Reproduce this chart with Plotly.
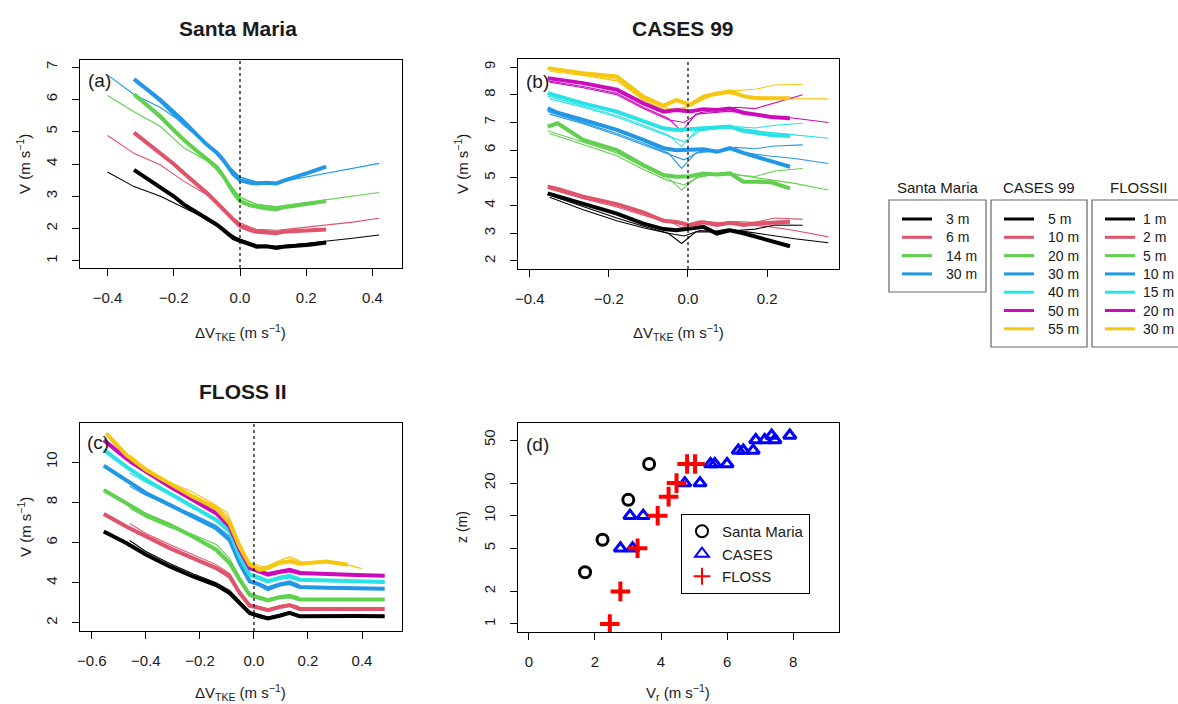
import plotly.graph_objects as go

W, H = 1178, 704

# ---------------- colours (R palette) ----------------
COLS = ["#000000", "#DF536B", "#61D04F", "#2297E6", "#28E2E5", "#CD0BBC", "#F5C710"]

# ---------------- Panel (a) Santa Maria ----------------
SM_HEIGHTS = ["3 m", "6 m", "14 m", "30 m"]
A_X = [-0.32, -0.28, -0.24, -0.20, -0.17, -0.13, -0.10, -0.07, -0.05, -0.02, 0.0, 0.03, 0.05, 0.08, 0.11, 0.13, 0.16, 0.21, 0.26]
A_3M = [3.82, 3.55, 3.30, 3.00, 2.75, 2.50, 2.32, 2.12, 1.96, 1.70, 1.62, 1.50, 1.44, 1.45, 1.40, 1.44, 1.46, 1.50, 1.57]
A_6M = [4.97, 4.65, 4.33, 4.00, 3.72, 3.38, 3.10, 2.80, 2.58, 2.28, 2.08, 1.95, 1.90, 1.88, 1.86, 1.90, 1.91, 1.93, 1.97]
A_14M = [6.16, 5.80, 5.47, 5.05, 4.75, 4.40, 4.13, 3.90, 3.62, 3.12, 2.85, 2.72, 2.68, 2.62, 2.60, 2.66, 2.70, 2.76, 2.85]
A_30M = [6.63, 6.30, 5.98, 5.60, 5.32, 4.90, 4.60, 4.35, 4.12, 3.68, 3.50, 3.42, 3.40, 3.42, 3.40, 3.48, 3.57, 3.74, 3.92]

A_THIN_X = [-0.40, -0.32, -0.24, -0.17, -0.10, -0.05, 0.0, 0.05, 0.11, 0.16, 0.26, 0.34, 0.42]
A_3M_THIN = [3.75, 3.30, 3.00, 2.65, 2.30, 1.97, 1.65, 1.48, 1.45, 1.50, 1.60, 1.70, 1.80]
A_6M_THIN = [4.88, 4.33, 3.97, 3.47, 3.05, 2.60, 2.12, 1.98, 1.95, 2.00, 2.10, 2.20, 2.32]
A_14M_THIN = [6.12, 5.62, 5.16, 4.50, 4.10, 3.65, 2.95, 2.75, 2.68, 2.75, 2.88, 3.00, 3.12]
A_30M_THIN = [6.76, 6.15, 5.75, 5.25, 4.60, 4.10, 3.60, 3.42, 3.42, 3.52, 3.72, 3.87, 4.02]

A_THIN2_X = [-0.32, -0.24, -0.17, -0.10, -0.03, 0.0, 0.05, 0.11, 0.18, 0.26]
A_3M_THIN2 = [3.78, 3.25, 2.78, 2.35, 1.80, 1.68, 1.50, 1.45, 1.50, 1.58]
A_6M_THIN2 = [4.95, 4.30, 3.75, 3.12, 2.40, 2.18, 1.96, 1.90, 1.95, 2.00]
A_14M_THIN2 = [6.15, 5.40, 4.70, 4.15, 3.35, 2.98, 2.75, 2.65, 2.72, 2.85]
A_30M_THIN2 = [6.62, 5.90, 5.20, 4.62, 3.85, 3.60, 3.45, 3.42, 3.62, 3.90]

# ---------------- Panel (b) CASES 99 ----------------
CA_HEIGHTS = ["5 m", "10 m", "20 m", "30 m", "40 m", "50 m", "55 m"]
B_X = [-0.355, -0.33, -0.265, -0.18, -0.113, -0.062, -0.029, 0.005, 0.039, 0.073, 0.106, 0.14, 0.174, 0.21, 0.258]
B_5M = [4.44, 4.34, 4.07, 3.71, 3.35, 3.15, 3.11, 3.18, 3.23, 2.99, 3.11, 3.00, 2.87, 2.75, 2.53]
B_10M = [4.68, 4.60, 4.32, 4.05, 3.75, 3.45, 3.41, 3.29, 3.40, 3.30, 3.38, 3.30, 3.35, 3.38, 3.42]
B_20M = [6.85, 6.97, 6.37, 6.00, 5.46, 5.10, 5.04, 5.06, 5.16, 5.12, 5.16, 4.86, 4.86, 4.84, 4.62]
B_30M = [7.51, 7.35, 7.09, 6.73, 6.37, 6.07, 6.00, 6.00, 6.03, 5.94, 6.07, 5.90, 5.76, 5.62, 5.40]
B_40M = [8.06, 7.95, 7.69, 7.39, 7.03, 6.79, 6.73, 6.76, 6.79, 6.79, 6.85, 6.70, 6.61, 6.55, 6.51]
B_50M = [8.60, 8.55, 8.42, 8.18, 7.69, 7.39, 7.45, 7.40, 7.48, 7.45, 7.50, 7.35, 7.27, 7.20, 7.15]
B_55M = [8.96, 8.90, 8.78, 8.66, 7.93, 7.60, 7.81, 7.63, 7.93, 8.05, 8.12, 7.95, 7.87, 7.87, 7.87]

B_THIN1_X = [-0.355, -0.265, -0.18, -0.113, -0.05, -0.016, 0.02, 0.06, 0.10, 0.15, 0.20, 0.27, 0.355]
B_5M_THIN1 = [4.40, 3.95, 3.55, 3.25, 3.00, 2.63, 3.05, 3.05, 3.15, 3.05, 2.95, 2.80, 2.66]
B_10M_THIN1 = [4.72, 4.35, 4.00, 3.70, 3.45, 3.20, 3.40, 3.35, 3.40, 3.30, 3.25, 3.10, 2.87]
B_20M_THIN1 = [6.70, 6.30, 5.90, 5.40, 5.00, 4.56, 5.00, 5.10, 5.20, 5.05, 4.95, 4.80, 4.56]
B_30M_THIN1 = [7.40, 7.00, 6.60, 6.25, 5.90, 5.34, 5.90, 5.95, 6.05, 5.90, 5.80, 5.70, 5.52]
B_40M_THIN1 = [7.95, 7.60, 7.25, 6.90, 6.55, 6.13, 6.70, 6.75, 6.80, 6.75, 6.65, 6.55, 6.43]
B_50M_THIN1 = [8.50, 8.30, 8.05, 7.55, 7.15, 6.67, 7.30, 7.35, 7.40, 7.35, 7.25, 7.15, 7.00]
B_55M_THIN1 = [8.95, 8.72, 8.55, 7.85, 7.50, 7.45, 7.70, 7.95, 8.05, 7.95, 7.90, 7.85, 7.85]

B_THIN2_X = [-0.35, -0.265, -0.18, -0.113, -0.05, -0.01, 0.03, 0.08, 0.12, 0.17, 0.22, 0.29]
B_5M_THIN2 = [4.30, 3.85, 3.45, 3.20, 3.00, 2.90, 3.10, 3.05, 3.10, 3.15, 3.30, 3.29]
B_10M_THIN2 = [4.60, 4.25, 3.95, 3.65, 3.40, 3.30, 3.45, 3.38, 3.42, 3.40, 3.55, 3.50]
B_20M_THIN2 = [6.60, 6.20, 5.80, 5.30, 4.90, 4.75, 5.05, 5.15, 5.10, 5.05, 5.25, 5.34]
B_30M_THIN2 = [7.30, 6.95, 6.55, 6.20, 5.85, 5.65, 5.95, 6.00, 6.10, 6.05, 6.15, 6.19]
B_40M_THIN2 = [7.85, 7.55, 7.20, 6.85, 6.50, 6.30, 6.70, 6.80, 6.85, 6.80, 6.90, 6.97]
B_50M_THIN2 = [8.45, 8.25, 8.00, 7.50, 7.10, 7.00, 7.35, 7.45, 7.55, 7.50, 7.70, 8.00]
B_55M_THIN2 = [8.85, 8.70, 8.50, 7.80, 7.40, 7.55, 7.90, 8.05, 8.15, 8.20, 8.35, 8.38]

# ---------------- Panel (c) FLOSS II ----------------
FL_HEIGHTS = ["1 m", "2 m", "5 m", "10 m", "15 m", "20 m", "30 m"]
C_X = [-0.556, -0.473, -0.399, -0.312, -0.226, -0.14, -0.09, -0.053, -0.016, 0.021, 0.052, 0.095, 0.132, 0.169, 0.268, 0.38, 0.484]
C_1M = [6.55, 5.97, 5.39, 4.81, 4.31, 3.88, 3.49, 2.99, 2.50, 2.33, 2.23, 2.36, 2.50, 2.33, 2.36, 2.35, 2.33]
C_2M = [7.42, 6.79, 6.30, 5.72, 5.22, 4.73, 4.31, 3.49, 2.86, 2.74, 2.63, 2.79, 2.88, 2.69, 2.70, 2.70, 2.69]
C_5M = [8.61, 7.95, 7.37, 6.88, 6.30, 5.64, 4.98, 4.15, 3.40, 3.24, 3.12, 3.27, 3.32, 3.16, 3.16, 3.16, 3.16]
C_10M = [9.82, 9.11, 8.45, 7.87, 7.29, 6.71, 6.13, 4.98, 4.07, 3.90, 3.69, 3.90, 3.98, 3.79, 3.75, 3.72, 3.70]
C_15M = [10.60, 9.77, 9.11, 8.45, 7.79, 7.12, 6.55, 5.31, 4.40, 4.23, 4.07, 4.23, 4.31, 4.15, 4.10, 4.06, 4.03]
C_20M = [11.09, 10.18, 9.52, 8.78, 8.12, 7.45, 6.79, 5.64, 4.73, 4.56, 4.40, 4.53, 4.61, 4.48, 4.42, 4.38, 4.35]
C_30M_X = [-0.547, -0.473, -0.399, -0.312, -0.226, -0.14, -0.09, -0.053, -0.016, 0.021, 0.052, 0.095, 0.132, 0.169, 0.268, 0.348]
C_30M = [11.42, 10.35, 9.60, 8.94, 8.28, 7.70, 6.96, 5.80, 4.89, 4.64, 4.73, 4.98, 5.06, 4.94, 5.06, 4.89]

C_THIN_X = [-0.46, -0.40, -0.312, -0.226, -0.14, -0.09, -0.053, -0.016, 0.021, 0.052, 0.095, 0.132, 0.169]
C_1M_THIN = [6.10, 5.55, 4.95, 4.45, 4.00, 3.62, 3.10, 2.55, 2.42, 2.30, 2.42, 2.55, 2.40]
C_2M_THIN = [6.95, 6.45, 5.90, 5.40, 4.90, 4.45, 3.60, 2.95, 2.82, 2.70, 2.85, 2.95, 2.80]
C_5M_THIN = [7.70, 7.25, 6.75, 6.40, 5.90, 5.20, 4.30, 3.50, 3.32, 3.20, 3.35, 3.42, 3.28]
C_10M_THIN = [8.80, 8.35, 7.85, 7.40, 6.85, 6.30, 5.10, 4.15, 3.98, 3.80, 3.98, 4.10, 3.90]
C_15M_THIN = [9.45, 9.00, 8.40, 7.70, 7.20, 6.70, 5.45, 4.50, 4.32, 4.15, 4.32, 4.42, 4.25]
C_20M_THIN = [9.95, 9.45, 8.75, 8.05, 7.40, 6.90, 5.80, 4.85, 4.65, 4.50, 4.62, 4.72, 4.58]
C_30M_THIN = [10.35, 9.70, 9.00, 8.50, 7.85, 7.20, 5.95, 5.00, 4.75, 4.85, 5.10, 5.30, 5.10]
C_30M_THIN2_X = [-0.20, -0.15, -0.10, -0.06, -0.02, 0.05, 0.12, 0.20, 0.30, 0.40]
C_30M_THIN2 = [8.10, 7.90, 7.50, 6.20, 5.00, 4.75, 5.25, 4.95, 5.05, 4.70]

# ---------------- Panel (d) profiles ----------------
SM_VR = [1.70, 2.23, 3.01, 3.64]
SM_Z = [3, 6, 14, 30]
CA_VR = [2.77, 3.14, 3.06, 3.46, 4.72, 5.18, 5.50, 5.63, 6.00, 6.34, 6.49, 6.79, 6.87, 7.14, 7.45, 7.35, 7.90]
CA_Z = [5, 5, 10, 10, 20, 20, 30, 30, 30, 40, 40, 40, 50, 50, 50, 55, 55]
FL_VR = [2.45, 2.77, 3.29, 3.90, 4.23, 4.47, 4.79, 5.03]
FL_Z = [1, 2, 5, 10, 15, 20, 30, 30]
Z_TICKS = [1, 2, 5, 10, 20, 50]

FONT = "Liberation Sans, Arial, sans-serif"
TXT = "#1a1a1a"
THICK, THIN = 4, 1.1

fig = go.Figure()


def add_lines(xax, yax, thick_x, thick_list, thin_sets, names):
    for thin_x, thin_list in thin_sets:
        for i, ys in enumerate(thin_list):
            fig.add_trace(go.Scatter(x=thin_x, y=ys, mode="lines", xaxis=xax, yaxis=yax,
                                     line=dict(color=COLS[i], width=THIN), showlegend=False,
                                     hoverinfo="skip"))
    for i, ys in enumerate(thick_list):
        xs = thick_x[i] if isinstance(thick_x[0], list) else thick_x
        fig.add_trace(go.Scatter(x=xs, y=ys, mode="lines", xaxis=xax, yaxis=yax,
                                 line=dict(color=COLS[i], width=THICK), name=names[i],
                                 showlegend=False))


add_lines("x", "y", A_X, [A_3M, A_6M, A_14M, A_30M],
          [(A_THIN_X, [A_3M_THIN, A_6M_THIN, A_14M_THIN, A_30M_THIN]),
           (A_THIN2_X, [A_3M_THIN2, A_6M_THIN2, A_14M_THIN2, A_30M_THIN2])],
          SM_HEIGHTS)

add_lines("x2", "y2", B_X, [B_5M, B_10M, B_20M, B_30M, B_40M, B_50M, B_55M],
          [(B_THIN1_X, [B_5M_THIN1, B_10M_THIN1, B_20M_THIN1, B_30M_THIN1, B_40M_THIN1, B_50M_THIN1, B_55M_THIN1]),
           (B_THIN2_X, [B_5M_THIN2, B_10M_THIN2, B_20M_THIN2, B_30M_THIN2, B_40M_THIN2, B_50M_THIN2, B_55M_THIN2])],
          CA_HEIGHTS)

fig.add_trace(go.Scatter(x=C_30M_THIN2_X, y=C_30M_THIN2, mode="lines", xaxis="x3", yaxis="y3",
                         line=dict(color=COLS[6], width=THIN), showlegend=False, hoverinfo="skip"))
add_lines("x3", "y3", [C_X] * 6 + [C_30M_X], [C_1M, C_2M, C_5M, C_10M, C_15M, C_20M, C_30M],
          [(C_THIN_X, [C_1M_THIN, C_2M_THIN, C_5M_THIN, C_10M_THIN, C_15M_THIN, C_20M_THIN, C_30M_THIN])],
          FL_HEIGHTS)

# panel d
fig.add_trace(go.Scatter(x=SM_VR, y=SM_Z, mode="markers", xaxis="x4", yaxis="y4", name="Santa Maria",
                         legend="legend4",
                         marker=dict(symbol="circle-open", size=11, color="black", line=dict(width=3, color="black"))))
fig.add_trace(go.Scatter(x=CA_VR, y=CA_Z, mode="markers", xaxis="x4", yaxis="y4", name="CASES",
                         legend="legend4",
                         marker=dict(symbol="triangle-up-open", size=11, color="#0000FF", line=dict(width=3, color="#0000FF"))))
fig.add_trace(go.Scatter(x=FL_VR, y=FL_Z, mode="markers", xaxis="x4", yaxis="y4", name="FLOSS",
                         legend="legend4",
                         marker=dict(symbol="cross-thin", size=14, color="#FF0000", line=dict(width=4, color="#FF0000"))))


def px(x):
    return x / W


def py(y):
    return 1 - y / H


PANELS = {
    "a": dict(x0=80, x1=402, y0=60, y1=268),
    "b": dict(x0=518, x1=839, y0=59, y1=269),
    "c": dict(x0=80, x1=402, y0=423, y1=631),
    "d": dict(x0=518, x1=839, y0=423, y1=632),
}

axis_common = dict(showline=True, mirror=True, linecolor="black", linewidth=1, ticks="outside",
                   ticklen=7, tickcolor="black", showgrid=False, zeroline=False,
                   tickfont=dict(family=FONT, size=15, color=TXT), ticklabelstandoff=9)


def dom(p):
    P = PANELS[p]
    return [px(P["x0"]), px(P["x1"])], [py(P["y1"]), py(P["y0"])]


xa, ya = dom("a")
xb, yb = dom("b")
xc, yc = dom("c")
xd, yd = dom("d")

fig.update_layout(
    xaxis=dict(domain=xa, anchor="y", range=[-0.483, 0.489], tickvals=[-0.4, -0.2, 0.0, 0.2, 0.4],
               ticktext=["−0.4", "−0.2", "0.0", "0.2", "0.4"], **axis_common),
    yaxis=dict(domain=ya, anchor="x", range=[0.78, 7.22], tickvals=[1, 2, 3, 4, 5, 6, 7], tickangle=-90,
               **axis_common),
    xaxis2=dict(domain=xb, anchor="y2", range=[-0.430, 0.382], tickvals=[-0.4, -0.2, 0.0, 0.2],
                ticktext=["−0.4", "−0.2", "0.0", "0.2"], **axis_common),
    yaxis2=dict(domain=yb, anchor="x2", range=[1.71, 9.29], tickvals=[2, 3, 4, 5, 6, 7, 8, 9], tickangle=-90,
                **axis_common),
    xaxis3=dict(domain=xc, anchor="y3", range=[-0.644, 0.548], tickvals=[-0.6, -0.4, -0.2, 0.0, 0.2, 0.4],
                ticktext=["−0.6", "−0.4", "−0.2", "0.0", "0.2", "0.4"], **axis_common),
    yaxis3=dict(domain=yc, anchor="x3", range=[1.6, 11.94], tickvals=[2, 4, 6, 8, 10], tickangle=-90,
                **axis_common),
    xaxis4=dict(domain=xd, anchor="y4", range=[-0.33, 9.39], tickvals=[0, 2, 4, 6, 8], **axis_common),
    yaxis4=dict(domain=yd, anchor="x4", type="log", range=[-0.074, 1.856], tickvals=Z_TICKS, tickangle=-90,
                **axis_common),
    width=W, height=H,
    margin=dict(l=0, r=0, t=0, b=0, autoexpand=False),
    paper_bgcolor="white", plot_bgcolor="white",
    font=dict(family=FONT, size=14, color=TXT),
    legend4=dict(x=px(681), y=py(514), xanchor="left", yanchor="top", bordercolor="black", borderwidth=1,
                 bgcolor="white", font=dict(family=FONT, size=15, color=TXT), traceorder="normal",
                 itemsizing="constant", itemwidth=30),
)

shapes = []
# dotted zero lines
for xr, yr in [("x", "y"), ("x2", "y2"), ("x3", "y3")]:
    shapes.append(dict(type="line", xref=xr, yref=yr + " domain", x0=0, x1=0, y0=0, y1=1,
                       line=dict(color="black", width=1.2, dash="dot")))

ann = []


def add_text(text, x, y, size=14, bold=False, angle=0, xanchor="center"):
    ann.append(dict(text=f"<b>{text}</b>" if bold else text, x=px(x), y=py(y), xref="paper", yref="paper",
                    showarrow=False, xanchor=xanchor, yanchor="middle", textangle=angle,
                    font=dict(family=FONT, size=size, color=TXT)))


add_text("Santa Maria", 238, 29, 21, True)
add_text("CASES 99", 683, 29, 21, True)
add_text("FLOSS II", 243, 391, 21, True)

VLAB = "V (m s<sup>−1</sup>)"
XLAB = "ΔV<sub>TKE</sub> (m s<sup>−1</sup>)"
add_text(VLAB, 24, 164, 15, angle=-90)
add_text(VLAB, 462, 164, 15, angle=-90)
add_text(VLAB, 24, 527, 15, angle=-90)
add_text("z (m)", 462, 527, 14, angle=-90)
add_text(XLAB, 241, 332, 15)
add_text(XLAB, 678, 332, 15)
add_text(XLAB, 241, 692, 15)
add_text("V<sub>r</sub> (m s<sup>−1</sup>)", 678, 692, 15)

add_text("(a)", 99, 81, 19)
add_text("(b)", 537, 82, 19)
add_text("(c)", 98, 442, 19)
add_text("(d)", 537, 444, 19)

# ---- hand-built line legends at right (R style: title above box) ----
LEG_ROW0, LEG_DY = 219, 18.3
LEGENDS = [
    ("Santa Maria", SM_HEIGHTS, 889, 986, 292, 55),
    ("CASES 99", CA_HEIGHTS, 991, 1087, 347, 55),
    ("FLOSSII", FL_HEIGHTS, 1092, 1190, 347, 49),
]
for title, labels, bx0, bx1, by1, tx in LEGENDS:
    add_text(title, (bx0 + bx1) / 2 if bx1 < W else bx0 + 47, 187, 15)
    shapes.append(dict(type="rect", xref="paper", yref="paper", x0=px(bx0), x1=px(bx1), y0=py(by1), y1=py(200),
                       line=dict(color="#666", width=1.2), fillcolor="rgba(0,0,0,0)"))
    for i, lab in enumerate(labels):
        yy = LEG_ROW0 + i * LEG_DY
        shapes.append(dict(type="line", xref="paper", yref="paper", x0=px(bx0 + 13), x1=px(bx0 + 43),
                           y0=py(yy), y1=py(yy), line=dict(color=COLS[i], width=3)))
        add_text(lab, bx0 + tx, yy, 14, xanchor="left")

fig.update_layout(annotations=ann, shapes=shapes)

fig.write_html("out.html")
